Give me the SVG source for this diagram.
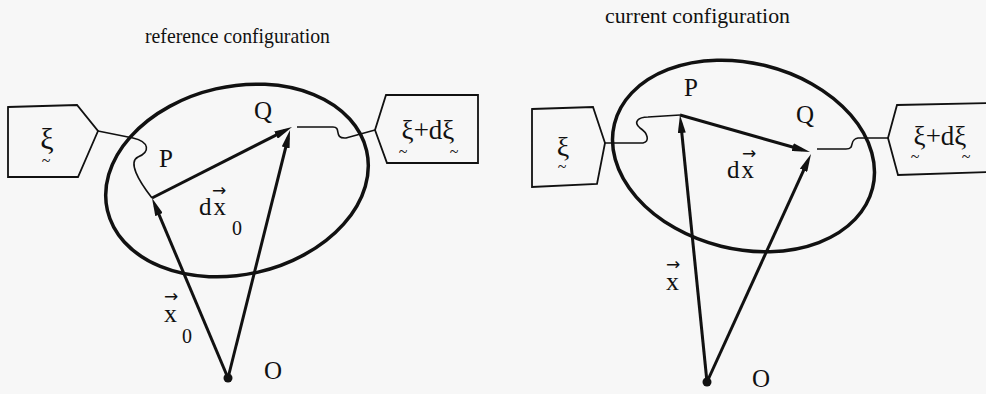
<svg xmlns="http://www.w3.org/2000/svg" width="986" height="394" viewBox="0 0 986 394">
<defs>
<style>
.t{font-family:"Liberation Serif","DejaVu Serif","Times New Roman",serif;fill:#111}
.e{fill:none;stroke:#111;stroke-width:3.5}
.v{stroke:#111;stroke-width:3;fill:none}
.w{stroke:#111;stroke-width:1.6;fill:none}
.b{stroke:#111;stroke-width:1.8;fill:#f7f7f7}
.ar{font-family:"DejaVu Sans",sans-serif}
</style>
<marker id="ah" viewBox="0 0 18 8" refX="10" refY="4" markerWidth="18" markerHeight="8" markerUnits="userSpaceOnUse" orient="auto">
<path d="M0,0 L18,4 L0,8 z" fill="#111"/>
</marker>
</defs>
<rect width="986" height="394" fill="#f7f7f7"/>

<text class="t" x="145" y="43" font-size="22" textLength="185" lengthAdjust="spacingAndGlyphs">reference configuration</text>
<text class="t" x="605" y="23" font-size="22" textLength="185" lengthAdjust="spacingAndGlyphs">current configuration</text>

<!-- LEFT: reference configuration -->
<g id="body-ref">
<ellipse class="e" cx="237" cy="180.5" rx="133" ry="94" transform="rotate(-13 237 180.5)"/>
</g>
<g id="xi-ref">
<path class="b" d="M8,107 L77,105 L98,131 L78,177 L8,177 z"/>
<text class="t" x="47" y="149" font-size="30" text-anchor="middle">ξ<tspan x="46" y="166" font-size="16">~</tspan></text>
</g>
<g id="xidxi-ref">
<path class="b" d="M375,130 L386,95 L478,95 L478,163 L387,163 z"/>
<text class="t" x="428" y="139" font-size="27" text-anchor="middle">ξ+dξ<tspan x="403" y="157" font-size="16">~</tspan><tspan x="454" y="157" font-size="16">~</tspan></text>
</g>
<g id="P-ref"><text class="t" x="159" y="167" font-size="25">P</text></g>
<g id="Q-ref"><text class="t" x="254" y="119" font-size="25">Q</text></g>
<g id="O-ref">
<circle cx="228" cy="378" r="4.5" fill="#111"/>
<text class="t" x="264" y="379" font-size="25">O</text>
</g>
<g id="labels-ref">
<text class="t" x="199" y="215" font-size="25" letter-spacing="2">dx<tspan class="ar" x="212" y="196" font-size="17" letter-spacing="0">→</tspan><tspan x="232" y="235" font-size="20">0</tspan></text>
<text class="t" x="164" y="322" font-size="26">x<tspan class="ar" x="164" y="302" font-size="17">→</tspan><tspan x="182" y="343" font-size="20">0</tspan></text>
</g>

<!-- RIGHT: current configuration -->
<g id="body-cur">
<ellipse class="e" cx="743.5" cy="156" rx="133" ry="93" transform="rotate(14 743.5 156)"/>
</g>
<g id="xi-cur">
<path class="b" d="M532,109 L593,107 L605,143 L597,184 L532,187 z"/>
<text class="t" x="563" y="156" font-size="28" text-anchor="middle">ξ<tspan x="562" y="172" font-size="16">~</tspan></text>
</g>
<g id="xidxi-cur">
<path class="b" d="M888,138 L897,105 L990,103 L990,172 L898,175 z"/>
<text class="t" x="940" y="145" font-size="27" text-anchor="middle">ξ+dξ<tspan x="915" y="162" font-size="16">~</tspan><tspan x="966" y="162" font-size="16">~</tspan></text>
</g>
<g id="P-cur"><text class="t" x="684" y="96" font-size="25">P</text></g>
<g id="Q-cur"><text class="t" x="796" y="123" font-size="25">Q</text></g>
<g id="O-cur">
<circle cx="707" cy="382" r="4.5" fill="#111"/>
<text class="t" x="752" y="387" font-size="25">O</text>
</g>
<g id="labels-cur">
<text class="t" x="727" y="178" font-size="25" letter-spacing="2">dx<tspan class="ar" x="742" y="159" font-size="17" letter-spacing="0">→</tspan></text>
<text class="t" x="666" y="290" font-size="26">x<tspan class="ar" x="666" y="270" font-size="17">→</tspan></text>
</g>

<g id="connectors">
<!-- left -->
<path class="w" d="M98,131 L133,138 C150,142 150,152 138,157 C128,162 138,180 152,198"/>
<path class="w" d="M297,127 L333,127 C342,127 333,139 346,138 L375,130"/>
<line class="v" x1="228" y1="378" x2="155.1" y2="205.4" marker-end="url(#ah)"/>
<line class="v" x1="152" y1="198" x2="284.9" y2="130.6" marker-end="url(#ah)"/>
<line class="v" x1="228" y1="378" x2="288.1" y2="137.8" marker-end="url(#ah)"/>
<!-- right -->
<path class="w" d="M605,143 L643,143 C650,142 648,133 640,128 C633,122 638,117 648,117 L680,115"/>
<path class="w" d="M817,149 L846,149 C856,149 848,140 858,138 L888,138"/>
<line class="v" x1="707" y1="382" x2="680.8" y2="123" marker-end="url(#ah)"/>
<line class="v" x1="680" y1="115" x2="802.3" y2="149.8" marker-end="url(#ah)"/>
<line class="v" x1="707" y1="382" x2="807.7" y2="161.3" marker-end="url(#ah)"/>
</g>
</svg>
